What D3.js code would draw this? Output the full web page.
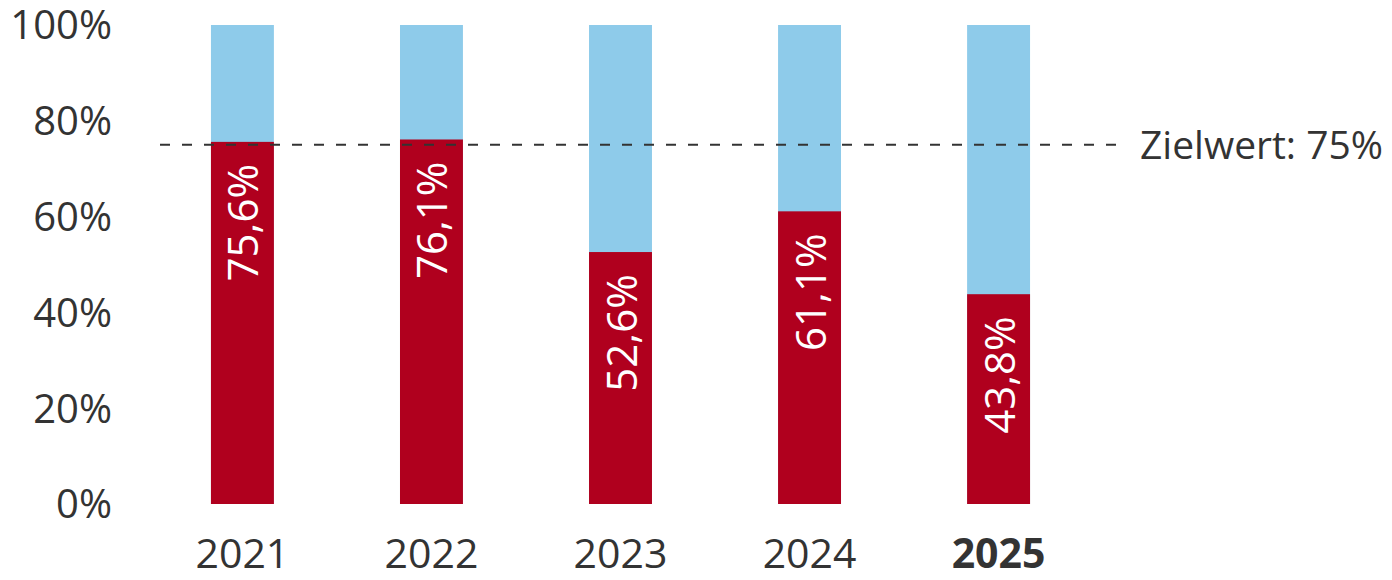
<!DOCTYPE html>
<html>
<head>
<meta charset="utf-8">
<script src="https://cdn.jsdelivr.net/npm/d3@7"></script>
<style>
	body { margin: 0; background: #fff; }
	svg text { font-family: "Open Sans", "Noto Sans", sans-serif; fill: #333; }
</style>
</head>
<body>
<svg id="chart" width="1392" height="580"></svg>
<script>
// data
const years = ['2021', '2022', '2023', '2024', '2025'];
const shares = [75.6, 76.1, 52.6, 61.1, 43.8];
const shareLabels = ['75,6%', '76,1%', '52,6%', '61,1%', '43,8%'];
const yTicks = [0, 20, 40, 60, 80, 100];
const target = 75;
const targetLabel = 'Zielwert: 75%';

const svg = d3.select('#chart');
const red = '#b0001e';
const blue = '#8ecbea';

const x = d3.scaleBand()
	.domain(years)
	.range([148, 1093])
	.paddingInner(0.667)
	.paddingOuter(0.333);

const y = d3.scaleLinear()
	.domain([0, 100])
	.range([504, 25]);

// background (100%) bars
svg.selectAll('rect.bg')
	.data(years)
	.enter()
	.append('rect')
	.attr('class', 'bg')
	.attr('x', d => x(d))
	.attr('y', y(100))
	.attr('width', x.bandwidth())
	.attr('height', y(0) - y(100))
	.attr('fill', blue);

// share bars
svg.selectAll('rect.val')
	.data(shares)
	.enter()
	.append('rect')
	.attr('class', 'val')
	.attr('x', (d, i) => x(years[i]))
	.attr('y', d => y(d))
	.attr('width', x.bandwidth())
	.attr('height', d => y(0) - y(d))
	.attr('fill', red);

// rotated value labels
svg.selectAll('text.val')
	.data(shares)
	.enter()
	.append('text')
	.attr('class', 'val')
	.attr('transform', (d, i) => `translate(${x(years[i]) + x.bandwidth() / 2 + 16},${y(d) + 22}) rotate(-90)`)
	.attr('text-anchor', 'end')
	.attr('font-size', '42px')
	.style('fill', '#fff')
	.text((d, i) => shareLabels[i]);

// target line
svg.append('line')
	.attr('x1', 160)
	.attr('x2', 1116)
	.attr('y1', y(target))
	.attr('y2', y(target))
	.attr('stroke', '#333')
	.attr('stroke-width', 2)
	.attr('stroke-dasharray', '10,12');

svg.append('text')
	.attr('x', 1140)
	.attr('y', y(target) + 14)
	.attr('font-size', '39px')
	.text(targetLabel);

// y axis labels
svg.selectAll('text.ytick')
	.data(yTicks)
	.enter()
	.append('text')
	.attr('class', 'ytick')
	.attr('x', 112)
	.attr('y', d => y(d))
	.attr('dy', '0.36em')
	.attr('text-anchor', 'end')
	.attr('font-size', '40px')
	.text(d => d + '%');

// x axis labels
svg.selectAll('text.xtick')
	.data(years)
	.enter()
	.append('text')
	.attr('class', 'xtick')
	.attr('x', d => x(d) + x.bandwidth() / 2)
	.attr('y', 568)
	.attr('text-anchor', 'middle')
	.attr('font-size', '41px')
	.attr('font-weight', (d, i) => i == years.length - 1 ? 'bold' : 'normal')
	.text(d => d);
</script>
</body>
</html>
